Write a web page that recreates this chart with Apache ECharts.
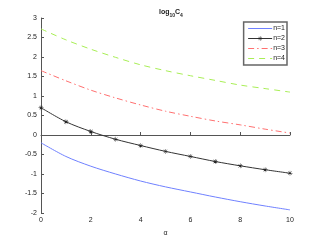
<!DOCTYPE html>
<html><head><meta charset="utf-8">
<script src="https://cdn.jsdelivr.net/npm/echarts@6/dist/echarts.min.js"></script>
<style>html,body{margin:0;padding:0;background:#fff}#c{width:321px;height:242px}</style>
</head><body><div id="c"></div>
<script>
var alphaValues = [0,1,2,3,4,5,6,7,8,9,10];
var n1 = [-0.2, -0.55, -0.8, -1.0, -1.18, -1.33, -1.46, -1.59, -1.71, -1.82, -1.92];
var n2 = [0.7, 0.34, 0.09, -0.11, -0.27, -0.42, -0.55, -0.68, -0.79, -0.89, -0.98];
var n3 = [1.65, 1.39, 1.15, 0.95, 0.77, 0.61, 0.48, 0.36, 0.26, 0.15, 0.05];
var n4 = [2.72, 2.44, 2.2, 1.99, 1.8, 1.65, 1.52, 1.4, 1.28, 1.19, 1.1];
var seriesNames = ['n=1','n=2','n=3','n=4'];

function pairs(arr){ return alphaValues.map(function(x,i){ return [x, arr[i]]; }); }
var star = 'path://M-0.4,-5 L0.4,-5 L0.4,5 L-0.4,5 Z M-5,-0.4 L5,-0.4 L5,0.4 L-5,0.4 Z M-3.8,-3.2 L-3.2,-3.8 L3.8,3.2 L3.2,3.8 Z M3.2,-3.8 L3.8,-3.2 L-3.2,3.8 L-3.8,3.2 Z';
var chart = echarts.init(document.getElementById('c'));
var font = 'Liberation Sans';
var hidden = {opacity: 0};
chart.setOption({
  animation: false,
  textStyle: {fontFamily: font},
  title: {
    text: '{a|log}{s|10}{a|C}{s|4}',
    left: 154, top: 4,
    textStyle: {rich: {
      a: {fontSize: 7, color: '#222', fontFamily: font, verticalAlign: 'top', lineHeight: 9},
      s: {fontSize: 5, color: '#222', fontFamily: font, padding: [4,0,0,0], lineHeight: 9}
    }}
  },
  legend: {
    orient: 'vertical', right: 34, top: 22,
    itemWidth: 24, itemHeight: 6, itemGap: 3,
    padding: [3, 2, 3, 4],
    borderColor: '#666', borderWidth: 1.5, backgroundColor: '#fff',
    lineStyle: {width: 1},
    textStyle: {fontSize: 7, color: '#222', fontFamily: font, padding: [0,0,0,-4]},
    data: [
      {name: seriesNames[0], itemStyle: hidden},
      {name: seriesNames[1]},
      {name: seriesNames[2], itemStyle: hidden},
      {name: seriesNames[3], itemStyle: hidden}
    ]
  },
  grid: {left: 41, right: 31, top: 18, bottom: 27},
  xAxis: {
    type: 'value', min: 0, max: 10, interval: 2,
    name: 'α', nameLocation: 'middle', nameGap: 17,
    nameTextStyle: {fontSize: 7, color: '#222', fontFamily: font},
    axisLine: {lineStyle: {color: '#555', width: 1}},
    axisTick: {inside: true, length: 3, lineStyle: {color: '#555'}},
    axisLabel: {fontSize: 7, color: '#222', margin: 4},
    splitLine: {show: false}
  },
  yAxis: {
    type: 'value', min: -2, max: 3, interval: 0.5,
    axisLine: {show: true, lineStyle: {color: '#555', width: 1}},
    axisTick: {show: true, inside: true, length: 3, lineStyle: {color: '#555'}},
    axisLabel: {fontSize: 7, color: '#222', margin: 4},
    splitLine: {show: false}
  },
  series: [
    {name: 'n=1', type: 'line', data: pairs(n1), symbol: 'none', smooth: 0.3,
     lineStyle: {color: '#6f80ff', width: 1}, itemStyle: {color: '#6f80ff'}},
    {name: 'n=2', type: 'line', data: pairs(n2), symbol: star, symbolSize: 5, smooth: 0.3,
     lineStyle: {color: '#333', width: 1}, itemStyle: {color: '#222'}},
    {name: 'n=3', type: 'line', data: pairs(n3), symbol: 'none', smooth: 0.3,
     lineStyle: {color: '#ff7070', width: 1, type: [6,3,1.5,3]}, itemStyle: {color: '#ff7070'}},
    {name: 'n=4', type: 'line', data: pairs(n4), symbol: 'none', smooth: 0.3,
     lineStyle: {color: '#a8ee55', width: 1, type: [6,5]}, itemStyle: {color: '#a8ee55'}}
  ]
});
</script></body></html>
